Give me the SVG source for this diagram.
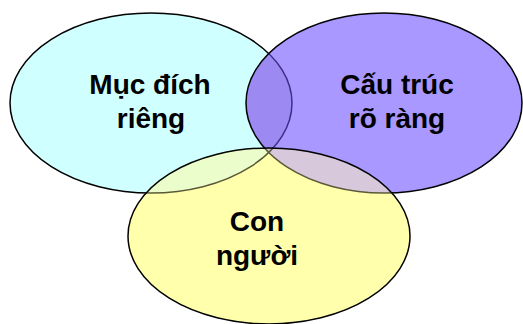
<svg xmlns="http://www.w3.org/2000/svg" width="523" height="324" viewBox="0 0 523 324">
<defs>
<ellipse id="eL" cx="151" cy="103" rx="141" ry="90"/>
<ellipse id="eR" cx="384" cy="103" rx="138" ry="90"/>
<ellipse id="eB" cx="269" cy="236" rx="141" ry="88"/>
<clipPath id="cR"><use href="#eR"/></clipPath>
<clipPath id="cB"><use href="#eB"/></clipPath>
</defs>
<style>
.s{fill:none;stroke:#000;stroke-width:1.5}
.t{font-family:"Liberation Sans",Arial,sans-serif;font-weight:bold;font-size:28px;fill:#000;text-anchor:middle}
</style>
<rect width="523" height="324" fill="#fff"/>
<g id="left">
<use href="#eL" fill="#d0ffff"/>
<use href="#eL" class="s"/>
</g>
<g id="right">
<use href="#eR" fill="#a898ff"/>
<use href="#eL" fill="#9c8af2" clip-path="url(#cR)"/>
<use href="#eL" class="s" stroke="#3e2e88" style="stroke:#3e2e88" clip-path="url(#cR)"/>
<use href="#eR" class="s"/>
</g>
<g id="bottom">
<use href="#eB" fill="#ffffac"/>
<use href="#eL" fill="#ecfdcc" clip-path="url(#cB)"/>
<use href="#eR" fill="#d8c8dc" clip-path="url(#cB)"/>
<g clip-path="url(#cB)">
<use href="#eL" fill="#ccc0d0" clip-path="url(#cR)"/>
<use href="#eL" class="s" style="stroke:#5a5a3a"/>
<use href="#eR" class="s" style="stroke:#5a5a3a"/>
</g>
<use href="#eB" class="s"/>
</g>
<g id="labels">
<text class="t" x="150" y="94">Mục đích</text>
<text class="t" x="151" y="128">riêng</text>
<text class="t" x="397" y="94">Cấu trúc</text>
<text class="t" x="397" y="128">rõ ràng</text>
<text class="t" x="257" y="231">Con</text>
<text class="t" x="257" y="265">người</text>
</g>
</svg>
